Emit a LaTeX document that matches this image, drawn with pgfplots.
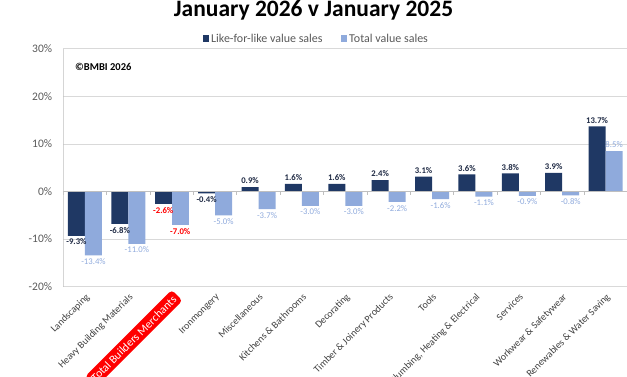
\documentclass[border=0pt]{standalone}
\usepackage{pgfplots}
\pgfplotsset{compat=1.18}
\usepackage{pgfplotstable}
\usepackage{fontspec}
\setmainfont{Carlito}
\definecolor{darkbar}{HTML}{1F3864}
\definecolor{lightbar}{HTML}{8FAADC}
\definecolor{tbmred}{HTML}{FF0000}
\definecolor{gridc}{HTML}{D9D9D9}
\definecolor{axisc}{HTML}{BFBFBF}
\definecolor{ticklab}{HTML}{595959}
\definecolor{catlab}{HTML}{404040}
\definecolor{darklab}{HTML}{1F2A44}

\pgfplotstableread{
x lfl tot
0 -9.3 -13.4
1 -6.8 -11.0
3 -0.4 -5.0
4 0.9 -3.7
5 1.6 -3.0
6 1.6 -3.0
7 2.4 -2.2
8 3.1 -1.6
9 3.6 -1.1
10 3.8 -0.9
11 3.9 -0.8
12 13.7 8.5
}\data
\pgfplotstableread{
x lfl tot
2 -2.6 -7.0
}\tbm

\begin{document}
\begin{tikzpicture}
\path[use as bounding box] (0,0) rectangle (627pt,376pt);
\clip (0,0) rectangle (627pt,376pt);
\node[anchor=base, font=\fontsize{23.5}{26}\selectfont\bfseries] at (313.5pt,359.5pt) {January 2026 v January 2025};
\node[anchor=base west, font=\fontsize{10.5}{12}\selectfont\bfseries] at (71.7pt,305.3pt) {©BMBI 2026};
\begin{axis}[
  at={(63.3pt,89.3pt)}, anchor=south west,
  scale only axis, width=564pt, height=238pt,
  xmin=-0.5, xmax=12.5, ymin=-20, ymax=30,
  ytick={-20,-10,...,30},
  yticklabel={\pgfmathprintnumber{\tick}\%},
  /pgf/number format/assume math mode=true,
  yticklabel style={font=\fontsize{11.5}{13}\selectfont, text=ticklab, inner sep=0pt, xshift=-11pt},
  ymajorgrids, grid style={gridc, line width=0.75pt},
  axis line style={draw=none},
  major tick length=0pt,
  xtick={0,1,3,4,5,6,7,8,9,10,11,12},
  xticklabels={Landscaping, Heavy Building Materials, Ironmongery, Miscellaneous, Kitchens \& Bathrooms, Decorating, Timber \& Joinery Products, Tools, {Plumbing, Heating \& Electrical}, Services, Workwear \& Safetywear, Renewables \& Water Saving},
  xticklabel style={yshift=-3pt, rotate=45, anchor=north east, font=\fontsize{10}{12}\selectfont, text=catlab, inner sep=2pt},
  extra x ticks={2},
  extra x tick labels={Total Builders Merchants},
  extra x tick style={xmajorgrids=false, major tick length=0pt, xticklabel style={fill=tbmred, text=white, rounded corners=3.5pt, inner sep=3.5pt, font=\fontsize{11.5}{13}\selectfont}},
  ybar, bar width=17pt,
  legend columns=2,
  legend image code/.code={\fill[#1] (0pt,-3.25pt) rectangle (6.5pt,3.25pt);},
  legend style={at={(0.5,1)}, anchor=center, xshift=-29pt, yshift=10pt, draw=none, fill=none,
    font=\fontsize{12}{14}\selectfont, text=ticklab,
    /tikz/every even column/.append style={column sep=16pt}},
  nodes near coords align=vertical,
  lab/.style={nodes near coords={\pgfmathprintnumber[fixed,fixed zerofill,precision=1,assume math mode=true]{\pgfplotspointmeta}\%}},
]
\addplot[fill=darkbar, draw=none, bar shift=-8.5pt, point meta=y, lab,
  every node near coord/.append style={font=\fontsize{8.7}{10}\selectfont\bfseries, text=darklab, inner ysep=3pt}]
  table[x=x, y=lfl] {\data};
\addlegendentry{Like-for-like value sales}
\addplot[fill=lightbar, draw=none, bar shift=8.5pt, point meta=y, lab,
  every node near coord/.append style={font=\fontsize{8.7}{10}\selectfont, text=lightbar, inner ysep=3pt}]
  table[x=x, y=tot] {\data};
\addlegendentry{Total value sales}
\addplot[forget plot, fill=darkbar, draw=none, bar shift=-8.5pt, point meta=y, lab,
  every node near coord/.append style={font=\fontsize{8.7}{10}\selectfont\bfseries, text=tbmred, inner ysep=3pt}]
  table[x=x, y=lfl] {\tbm};
\addplot[forget plot, fill=lightbar, draw=none, bar shift=8.5pt, point meta=y, lab,
  every node near coord/.append style={font=\fontsize{8.7}{10}\selectfont\bfseries, text=tbmred, inner ysep=3pt}]
  table[x=x, y=tot] {\tbm};
\draw[axisc, line width=0.75pt] (rel axis cs:0,0) -- (rel axis cs:0,1);
\draw[axisc, line width=0.75pt] (axis cs:-0.5,0) -- (axis cs:12.5,0);
\pgfplotsinvokeforeach{-0.5,0.5,1.5,2.5,3.5,4.5,5.5,6.5,7.5,8.5,9.5,10.5,11.5,12.5}{\draw[axisc, line width=0.75pt] (axis cs:#1,0) -- ([yshift=-3pt]axis cs:#1,0);}
\end{axis}
\end{tikzpicture}
\end{document}
